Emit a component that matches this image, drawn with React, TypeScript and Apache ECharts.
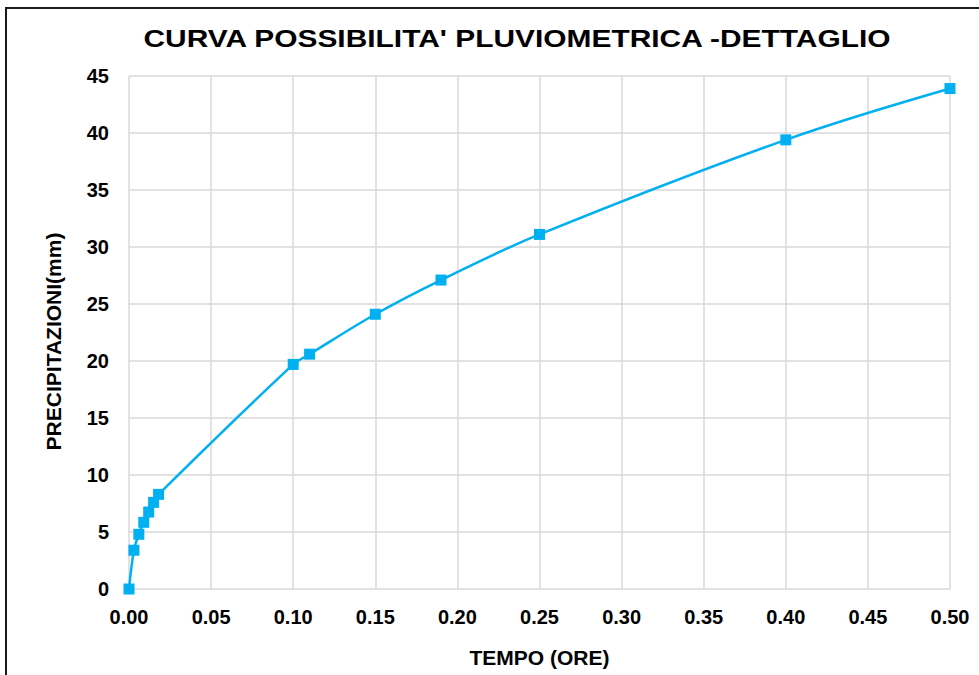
import React, { useEffect, useRef } from "react";
import * as echarts from "echarts";

const tempoOre: number[] = [0, 0.003, 0.006, 0.009, 0.012, 0.015, 0.018, 0.1, 0.11, 0.15, 0.19, 0.25, 0.4, 0.5];
const precipitazioniMm: number[] = [0, 3.4, 4.8, 5.85, 6.75, 7.6, 8.3, 19.7, 20.6, 24.1, 27.1, 31.1, 39.4, 43.9];

const titleText = "CURVA POSSIBILITA' PLUVIOMETRICA -DETTAGLIO";
const xAxisName = "TEMPO (ORE)";
const yAxisName = "PRECIPITAZIONI(mm)";

const FONT = "'Liberation Sans', Arial, sans-serif";

export default function App() {
  const ref = useRef<HTMLDivElement>(null);
  useEffect(() => {
    if (!ref.current) return;
    const chart = echarts.init(ref.current, null, { renderer: "svg" });
    const data = tempoOre.map((t, i) => [t, precipitazioniMm[i]]);
    chart.setOption({
      animation: false,
      backgroundColor: "#ffffff",
      graphic: [
        {
          type: "rect",
          shape: { x: 6, y: 8, width: 1000, height: 700 },
          style: { fill: "none", stroke: "#1a1a1a", lineWidth: 2 },
          silent: true,
        },
        {
          type: "text",
          x: 517,
          y: 39,
          scaleX: 1.36,
          scaleY: 1.05,
          style: {
            text: titleText,
            fontFamily: FONT,
            fontSize: 22,
            fontWeight: "bold",
            fill: "#000",
            align: "center",
            verticalAlign: "middle",
          },
          silent: true,
        },
      ],
      grid: {
        left: 129,
        right: 29,
        top: 76,
        bottom: 86,
        containLabel: false,
        outerBoundsMode: "none",
      },
      xAxis: {
        type: "value",
        min: 0,
        max: 0.5,
        interval: 0.05,
        name: xAxisName,
        nameLocation: "middle",
        nameGap: 58,
        nameTextStyle: { fontFamily: FONT, fontSize: 21, fontWeight: "bold", color: "#000" },
        axisLine: { show: false },
        axisTick: { show: false },
        axisLabel: {
          margin: 18,
          fontFamily: FONT,
          fontSize: 20,
          fontWeight: "bold",
          color: "#000",
          formatter: (v: number) => v.toFixed(2),
        },
        splitLine: { show: true, lineStyle: { color: "#d9d9d9", width: 1.5 } },
      },
      yAxis: {
        type: "value",
        min: 0,
        max: 45,
        interval: 5,
        name: yAxisName,
        nameLocation: "middle",
        nameGap: 65,
        nameRotate: 90,
        nameTextStyle: {
          fontFamily: FONT,
          fontSize: 21,
          fontWeight: "bold",
          color: "#000",
          padding: [0, 18, 0, 0],
        },
        axisLine: { show: false },
        axisTick: { show: false },
        axisLabel: {
          margin: 20,
          fontFamily: FONT,
          fontSize: 20,
          fontWeight: "bold",
          color: "#000",
        },
        splitLine: { show: true, lineStyle: { color: "#d9d9d9", width: 1.5 } },
      },
      series: [
        {
          type: "line",
          data,
          smooth: 0.35,
          symbol: "rect",
          symbolSize: 11,
          itemStyle: { color: "#00B0F0" },
          lineStyle: { color: "#00B0F0", width: 2.5 },
        },
      ],
    });
    return () => chart.dispose();
  }, []);
  return <div ref={ref} style={{ width: 979, height: 675, position: "absolute", left: 0, top: 0 }} />;
}
